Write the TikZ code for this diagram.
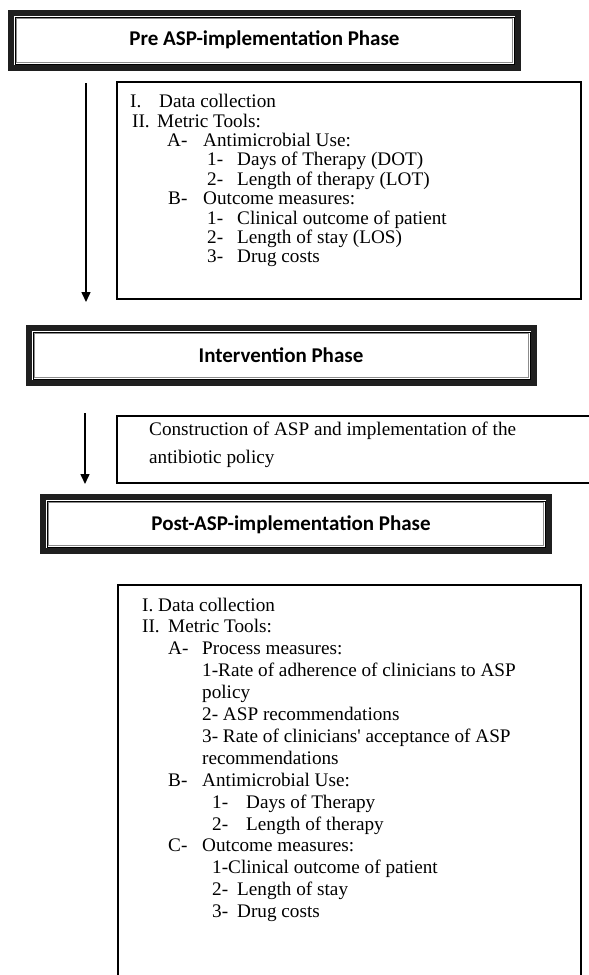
\documentclass[tikz,border=0pt]{standalone}
\usepackage{fontspec}
\setmainfont{Liberation Serif}
\newfontfamily\titlefont{Carlito}
\usetikzlibrary{arrows.meta}
\begin{document}
\begin{tikzpicture}[x=1pt,y=-1pt,
  titlebox/.style={draw=black!88, line width=5.7pt, inner sep=0pt, outer sep=0pt},
  titletext/.style={font=\titlefont\bfseries\fontsize{21}{25}\selectfont, inner sep=0pt},
  contentbox/.style={draw, line width=1.3pt, inner sep=0pt, outer sep=0pt},
  txt/.style={font=\fontsize{19.2}{22}\selectfont, anchor=base west, inner sep=0pt},
  flow/.style={line width=1.5pt, -{Triangle[length=10pt,width=9pt]}},
  innerdark/.style={draw=black, line width=0.7pt},
  innergray/.style={draw=black!45, line width=1.2pt}
]
\useasboundingbox (0,0) rectangle (589,975);
\clip (0,0) rectangle (589,975);

% ---------- title boxes ----------
\node[titlebox, minimum width=507.3pt, minimum height=55.3pt] (pre) at (264.5,40.5) {};
\node[titlebox, minimum width=505.3pt, minimum height=55.3pt] (int) at (281.5,355.5) {};
\node[titlebox, minimum width=506.3pt, minimum height=54.3pt] (post) at (296,524) {};
\foreach \b in {pre,int,post}{
  \draw[innerdark] ([shift={(4.15,4.15)}]\b.north west) rectangle ([shift={(-4.15,-4.15)}]\b.south east);
  \draw[innergray] ([shift={(5.35,5.35)}]\b.north west) rectangle ([shift={(-5.35,-5.35)}]\b.south east);
}
\node[titletext] (pretext) at (264.5,40) {Pre ASP-implementation Phase};
\node[titletext] (inttext) at (281,355) {Intervention Phase};
\node[titletext] (posttext) at (291,525) {Post-ASP-implementation Phase};

% ---------- content boxes ----------
\node[contentbox, minimum width=464pt, minimum height=217pt] (box2) at (349,190.5) {};
\node[contentbox, minimum width=483pt, minimum height=67pt] (box3) at (358.5,449.5) {};
\node[contentbox, minimum width=463pt, minimum height=405pt] (box4) at (349.5,787.5) {};

% ---------- arrows ----------
\coordinate (a1s) at (86,83);
\coordinate (a1e) at (86,302);
\coordinate (a2s) at (85,413);
\coordinate (a2e) at (85,484);
\draw[flow] (a1s) -- (a1e);
\draw[flow] (a2s) -- (a2e);

% ---------- pre content ----------
\node[txt] (p1a) at (130,107.7) {I.};
\node[txt] (p1b) at (159,107.7) {Data collection};
\node[txt] (p2a) at (132,127.1) {II.};
\node[txt] (p2b) at (157,127.1) {Metric Tools:};
\node[txt] (p3a) at (167,146.5) {A-};
\node[txt] (p3b) at (203,146.5) {Antimicrobial Use:};
\node[txt] (p4a) at (207,165.9) {1-};
\node[txt] (p4b) at (237,165.9) {Days of Therapy (DOT)};
\node[txt] (p5a) at (207,185.3) {2-};
\node[txt] (p5b) at (237,185.3) {Length of therapy (LOT)};
\node[txt] (p6a) at (168,204.7) {B-};
\node[txt] (p6b) at (203,204.7) {Outcome measures:};
\node[txt] (p7a) at (207,224.1) {1-};
\node[txt] (p7b) at (237,224.1) {Clinical outcome of patient};
\node[txt] (p8a) at (207,243.5) {2-};
\node[txt] (p8b) at (237,243.5) {Length of stay (LOS)};
\node[txt] (p9a) at (207,262.9) {3-};
\node[txt] (p9b) at (237,262.9) {Drug costs};

% ---------- intervention content ----------
\node[txt] (i1) at (149,435) {Construction of ASP and implementation of the};
\node[txt] (i2) at (149,463) {antibiotic policy};

% ---------- post content ----------
\node[txt] (q1) at (142,611) {I. Data collection};
\node[txt] (q2a) at (142,632.9) {II.};
\node[txt] (q2b) at (168,632.9) {Metric Tools:};
\node[txt] (q3a) at (168,654.8) {A-};
\node[txt] (q3b) at (202,654.8) {Process measures:};
\node[txt] (q4) at (202,676.7) {1-Rate of adherence of clinicians to ASP};
\node[txt] (q5) at (202,698.6) {policy};
\node[txt] (q6) at (202,720.5) {2- ASP recommendations};
\node[txt] (q7) at (202,742.4) {3- Rate of clinicians\textquotesingle\ acceptance of ASP};
\node[txt] (q8) at (202,764.3) {recommendations};
\node[txt] (q9a) at (168,786.2) {B-};
\node[txt] (q9b) at (202,786.2) {Antimicrobial Use:};
\node[txt] (q10a) at (212,808.1) {1-};
\node[txt] (q10b) at (246,808.1) {Days of Therapy};
\node[txt] (q11a) at (212,830) {2-};
\node[txt] (q11b) at (246,830) {Length of therapy};
\node[txt] (q12a) at (168,851.9) {C-};
\node[txt] (q12b) at (202,851.9) {Outcome measures:};
\node[txt] (q13) at (212,873.8) {1-Clinical outcome of patient};
\node[txt] (q14a) at (212,895.7) {2-};
\node[txt] (q14b) at (237,895.7) {Length of stay};
\node[txt] (q15a) at (212,917.6) {3-};
\node[txt] (q15b) at (237,917.6) {Drug costs};
\end{tikzpicture}
\end{document}
